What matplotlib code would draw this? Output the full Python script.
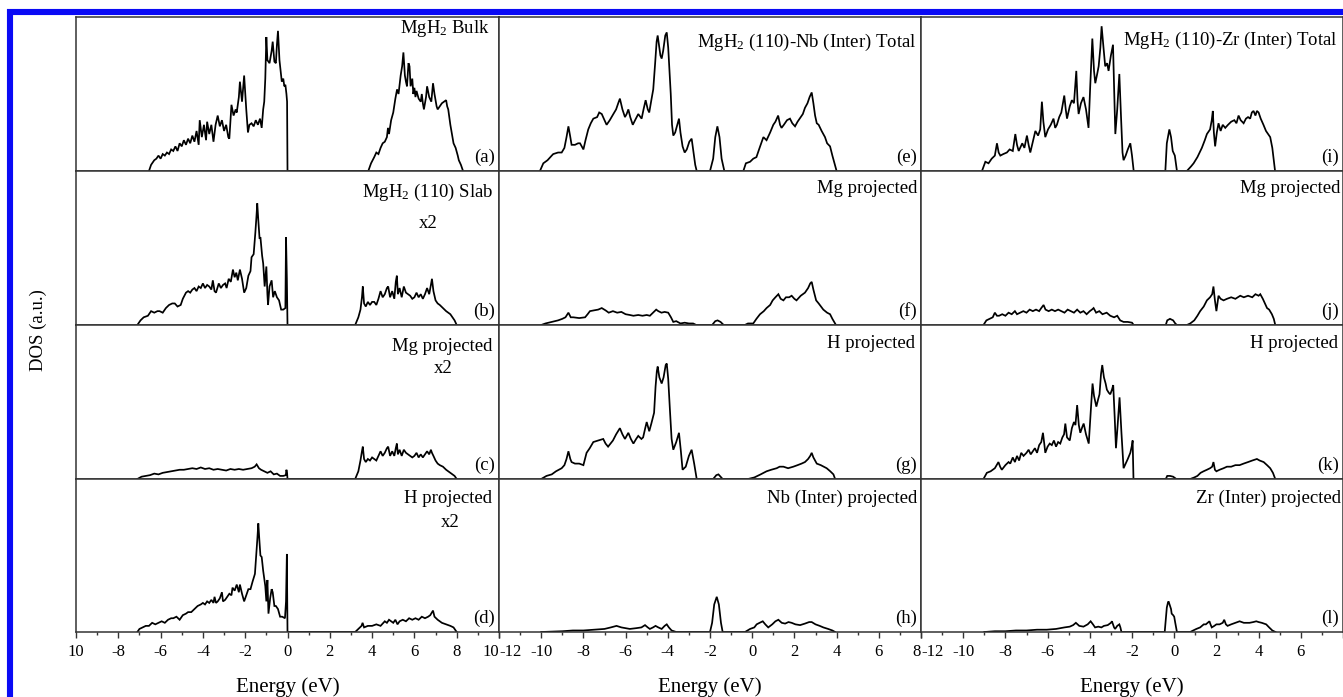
import matplotlib
matplotlib.use("Agg")
import matplotlib.pyplot as plt
from matplotlib.lines import Line2D

plt.rcParams['font.family'] = ['Liberation Serif', 'DejaVu Serif']
plt.rcParams['mathtext.fontset'] = 'custom'
plt.rcParams['mathtext.rm'] = 'Liberation Serif'
plt.rcParams['mathtext.it'] = 'Liberation Serif:italic'
plt.rcParams['axes.unicode_minus'] = False

# ---------------- data (energy in eV, DOS in arbitrary units 0..100) ----------------
a_pts = [(-6.55,0),(-6.45,4),(-6.3,7),(-6.2,8),(-6.1,10),(-6.0,8),(-5.9,11),(-5.8,10),(-5.7,12),(-5.6,11),
         (-5.5,14),(-5.4,13),(-5.3,16),(-5.2,13),(-5.1,18),(-5.0,16),(-4.9,20),(-4.8,17),(-4.7,21),(-4.6,18),
         (-4.5,23),(-4.4,19),(-4.3,26),(-4.2,17),(-4.15,33),(-4.05,22),(-3.95,30),(-3.85,20),(-3.8,32),(-3.7,24),
         (-3.6,30),(-3.5,19),(-3.4,30),(-3.3,36),(-3.2,29),(-3.1,33),(-3.0,26),(-2.9,30),(-2.8,22),(-2.75,21),
         (-2.65,43),(-2.55,36),(-2.45,40),(-2.4,38),(-2.3,48),(-2.25,58),(-2.15,45),(-2.05,62),(-1.95,40),(-1.87,25),
         (-1.8,30),(-1.7,31),(-1.6,29),(-1.5,33),(-1.4,30),(-1.3,34),(-1.22,28),(-1.15,40),(-1.1,45),(-1.05,60),
         (-1.0,87),(-0.95,72),(-0.85,70),(-0.75,78),(-0.7,84),(-0.62,71),(-0.55,70),(-0.5,82),(-0.45,91),(-0.38,72),
         (-0.3,62),(-0.27,58),(-0.2,60),(-0.15,55),(-0.1,56),(-0.05,50),(-0.02,45),(0.0,0),
         (3.82,0),(3.95,5),(4.1,9),(4.2,12),(4.3,11),(4.4,15),(4.5,18),(4.6,19),(4.7,22),(4.75,28),(4.8,24),
         (4.9,33),(5.0,38),(5.1,47),(5.18,53),(5.25,50),(5.35,62),(5.42,68),(5.48,77),(5.55,62),(5.6,58),(5.65,55),
         (5.72,70),(5.77,68),(5.82,55),(5.9,60),(5.95,50),(6.0,54),(6.05,48),(6.1,52),(6.2,47),(6.3,45),(6.35,50),
         (6.4,44),(6.45,40),(6.55,48),(6.6,55),(6.7,48),(6.8,45),(6.88,57),(6.95,50),(7.05,42),(7.1,40),(7.2,42),
         (7.3,44),(7.4,45),(7.5,46),(7.55,42),(7.6,40),(7.7,30),(7.8,22),(7.85,18),(7.95,15),(8.05,10),(8.1,7),
         (8.2,4),(8.3,0)]

b_pts = [(-7.1,0),(-6.95,3),(-6.8,5),(-6.6,6),(-6.45,9),(-6.3,8),(-6.15,9),(-6.05,9),(-5.9,8),(-5.75,11),
         (-5.6,13),(-5.45,14),(-5.33,14),(-5.2,12),(-5.05,13),(-4.95,17),(-4.8,21),(-4.7,22),(-4.6,21),(-4.5,23),
         (-4.4,24),(-4.3,22),(-4.2,25),(-4.1,24),(-4.0,27),(-3.9,24),(-3.8,26),(-3.7,25),(-3.6,23),(-3.53,29),
         (-3.45,22),(-3.38,21),(-3.25,27),(-3.15,24),(-3.05,26),(-2.95,27),(-2.88,24),(-2.78,30),(-2.68,28),(-2.58,36),
         (-2.5,31),(-2.42,34),(-2.35,29),(-2.25,36),(-2.15,30),(-2.05,21),(-1.95,24),(-1.85,32),(-1.75,35),(-1.7,44),
         (-1.6,46),(-1.52,60),(-1.47,70),(-1.43,79),(-1.38,68),(-1.32,56),(-1.28,57),(-1.2,45),(-1.15,40),(-1.08,25),
         (-1.0,38),(-0.95,20),(-0.92,13),(-0.85,25),(-0.75,29),(-0.68,18),(-0.6,22),(-0.5,18),(-0.4,16),(-0.3,10),
         (-0.2,10),(-0.1,11),(-0.07,57),(-0.03,30),(0.0,0),
         (3.2,0),(3.35,5),(3.45,10),(3.52,18),(3.56,25),(3.62,14),(3.7,12),(3.8,15),(3.9,13),(4.0,15),(4.1,15),
         (4.2,13),(4.3,17),(4.4,22),(4.5,18),(4.6,20),(4.7,24),(4.76,25),(4.85,18),(4.95,22),(5.05,17),(5.12,28),
         (5.17,32),(5.22,20),(5.3,24),(5.4,18),(5.5,25),(5.6,21),(5.7,20),(5.8,19),(5.9,17),(6.0,18),(6.1,21),
         (6.2,18),(6.3,20),(6.4,17),(6.5,20),(6.6,24),(6.7,20),(6.78,26),(6.83,30),(6.9,22),(7.0,16),(7.1,14),
         (7.2,13),(7.35,11),(7.5,9),(7.6,8),(7.7,7),(7.8,5),(7.9,3),(8.0,0)]

c_pts = [(-7.1,0),(-6.9,1.5),(-6.7,2),(-6.5,2.5),(-6.3,3.5),(-6.1,3),(-5.9,4),(-5.7,4.5),(-5.5,5),(-5.3,5.5),
         (-5.1,6),(-4.9,6),(-4.7,6.5),(-4.5,7),(-4.3,6.5),(-4.1,7.5),(-3.9,6.5),(-3.7,7),(-3.5,6),(-3.3,6.5),
         (-3.1,6),(-2.9,5.5),(-2.7,6.5),(-2.5,6),(-2.3,6.5),(-2.1,6),(-1.9,6.5),(-1.7,7),(-1.55,8),(-1.46,9.5),
         (-1.35,7),(-1.25,6),(-1.1,5),(-0.95,4),(-0.8,5),(-0.65,3),(-0.5,3.5),(-0.35,2),(-0.2,2),(-0.08,2.5),
         (-0.05,6),(-0.02,4),(0.0,0),
         (3.2,0),(3.35,5),(3.45,12),(3.52,18),(3.56,21),(3.62,13),(3.7,11),(3.8,13),(3.9,12),(4.0,14),(4.1,13),
         (4.2,12),(4.3,15),(4.4,18),(4.5,15),(4.6,17),(4.7,20),(4.76,21),(4.85,15),(4.95,18),(5.05,15),(5.12,20),
         (5.17,23),(5.22,16),(5.3,19),(5.4,15),(5.5,19),(5.6,17),(5.7,16),(5.8,15),(5.9,14),(6.0,15),(6.1,17),
         (6.2,14),(6.3,16),(6.4,14),(6.5,16),(6.6,18),(6.7,16),(6.78,19),(6.83,17),(6.9,15),(7.0,12),(7.1,10),
         (7.2,9),(7.35,8),(7.5,6),(7.6,5),(7.7,4),(7.8,3),(7.9,2),(8.0,0)]

d_pts = [(-7.1,0),(-7.0,2),(-6.85,3),(-6.7,4),(-6.55,4),(-6.4,6),(-6.25,5),(-6.1,6),(-5.95,7),(-5.8,6),
         (-5.65,8),(-5.5,9),(-5.4,9),(-5.25,10),(-5.1,8),(-4.95,11),(-4.8,12),(-4.7,13),(-4.55,13),(-4.4,15),
         (-4.25,17),(-4.1,18),(-4.0,19),(-3.9,18),(-3.8,20),(-3.7,19),(-3.6,21),(-3.5,19),(-3.45,23),(-3.38,19),
         (-3.3,20),(-3.2,22),(-3.1,26),(-3.05,20),(-2.95,21),(-2.85,23),(-2.75,25),(-2.65,24),(-2.6,29),(-2.5,27),
         (-2.4,31),(-2.3,26),(-2.25,31),(-2.15,25),(-2.05,20),(-1.95,24),(-1.85,28),(-1.75,28),(-1.65,33),(-1.54,38),
         (-1.48,50),(-1.42,62),(-1.38,71),(-1.33,60),(-1.28,50),(-1.22,49),(-1.15,40),(-1.05,30),(-1.0,20),(-0.95,34),
         (-0.9,12),(-0.82,22),(-0.75,28),(-0.7,26),(-0.62,17),(-0.55,17),(-0.45,15),(-0.35,10),(-0.25,10),(-0.12,9),
         (-0.07,20),(-0.03,51),(0.0,0),
         (3.2,0),(3.35,2),(3.5,4),(3.55,6),(3.62,3),(3.8,4),(4.0,4),(4.2,5),(4.4,4),(4.6,7),(4.7,6),(4.8,8),
         (4.9,7),(5.0,6),(5.1,8),(5.2,5),(5.3,7),(5.45,8),(5.6,7),(5.75,9),(5.9,8),(6.05,9),(6.2,8),(6.35,10),
         (6.5,9),(6.65,10),(6.75,11),(6.88,14),(6.95,10),(7.1,8),(7.3,6),(7.5,5),(7.7,4),(7.85,3),(8.0,0)]

e_pts = [(-10.06,0),(-9.9,5),(-9.7,7),(-9.5,10),(-9.43,11),(-9.2,12),(-9.03,12),(-8.9,15),(-8.8,22),(-8.71,29),
         (-8.62,22),(-8.56,17),(-8.4,17),(-8.25,18),(-8.16,18),(-8.0,14),(-7.9,20),(-7.77,27),(-7.65,31),(-7.53,34),
         (-7.35,35),(-7.25,38),(-7.13,37),(-7.0,33),(-6.9,30),(-6.75,33),(-6.58,37),(-6.45,40),(-6.35,44),(-6.27,47),
         (-6.15,40),(-6.03,35),(-5.95,37),(-5.87,40),(-5.78,35),(-5.66,30),(-5.55,33),(-5.4,37),(-5.24,34),(-5.15,40),
         (-5.05,46),(-4.95,40),(-4.88,38),(-4.78,46),(-4.69,53),(-4.6,70),(-4.53,84),(-4.48,88),(-4.42,82),(-4.35,75),
         (-4.29,73),(-4.22,78),(-4.12,88),(-4.05,90),(-3.98,80),(-3.92,65),(-3.86,50),(-3.8,30),(-3.74,23),(-3.65,25),
         (-3.55,30),(-3.47,34),(-3.4,25),(-3.3,16),(-3.2,12),(-3.1,14),(-2.98,19),(-2.87,21),(-2.78,12),(-2.7,4),
         (-2.63,0),(-2.0,0),(-1.85,8),(-1.75,22),(-1.65,29),(-1.55,22),(-1.45,8),(-1.32,0),
         (-0.42,0),(-0.3,5),(-0.1,6),(0.05,8),(0.2,9),(0.35,15),(0.53,22),(0.68,20),(0.85,25),(1.0,30),(1.1,32),
         (1.23,36),(1.32,30),(1.39,28),(1.5,30),(1.65,33),(1.79,34),(1.9,31),(2.03,29),(2.15,32),(2.3,35),(2.4,37),
         (2.5,41),(2.62,44),(2.72,48),(2.82,51),(2.9,44),(2.98,36),(3.06,31),(3.15,30),(3.29,26),(3.45,22),(3.55,18),
         (3.69,16),(3.8,10),(3.9,5),(4.0,0)]

f_pts = [(-10.0,0),(-9.8,1),(-9.5,2),(-9.2,3),(-9.0,4),(-8.85,5),(-8.71,8),(-8.6,5),(-8.48,5),(-8.2,4.5),
         (-7.92,5),(-7.8,7),(-7.69,9),(-7.5,9.5),(-7.3,10),(-7.13,11),(-6.95,9.5),(-6.8,8),(-6.6,9),(-6.4,8),
         (-6.2,8.5),(-6.0,7),(-5.8,6.5),(-5.63,6),(-5.4,6.5),(-5.2,6),(-5.0,6.5),(-4.85,6),(-4.7,8),(-4.55,10),
         (-4.45,9),(-4.3,8),(-4.15,8.5),(-3.98,8),(-3.85,5),(-3.74,2),(-3.6,2.5),(-3.4,1),(-3.2,1.5),(-3.0,1),
         (-2.8,1),(-2.65,0),(-1.9,0),(-1.75,2.5),(-1.64,3),(-1.5,2),(-1.35,0),
         (-0.35,0),(-0.2,1),(0.05,1),(0.2,4),(0.37,7),(0.55,9),(0.68,11),(0.85,13),(0.97,16),(1.1,18),(1.24,20),
         (1.35,17),(1.48,16),(1.6,18),(1.75,18),(1.87,19),(2.0,17),(2.1,16),(2.3,19),(2.5,21),(2.65,24),(2.75,27),
         (2.82,28),(2.9,23),(3.03,16),(3.15,14),(3.37,10),(3.55,8),(3.69,7),(3.8,4),(3.97,0)]

g_pts = [(-10.0,0),(-9.75,2),(-9.5,3),(-9.3,5),(-9.03,7),(-8.9,9),(-8.8,13),(-8.71,18),(-8.62,13),(-8.56,11),
         (-8.4,10),(-8.2,10),(-8.0,9),(-7.85,17),(-7.7,20),(-7.53,24),(-7.3,25),(-7.06,26),(-6.95,23),(-6.83,21),
         (-6.6,25),(-6.45,29),(-6.27,33),(-6.15,29),(-6.03,26),(-5.87,30),(-5.75,26),(-5.63,23),(-5.5,26),(-5.4,28),
         (-5.25,26),(-5.17,27),(-5.07,33),(-5.0,37),(-4.88,31),(-4.78,36),(-4.65,43),(-4.58,60),(-4.52,70),(-4.48,73),
         (-4.4,66),(-4.29,62),(-4.2,66),(-4.1,74),(-4.05,75),(-3.98,65),(-3.9,45),(-3.82,26),(-3.74,19),(-3.6,24),
         (-3.47,30),(-3.38,18),(-3.3,6),(-3.15,8),(-3.0,15),(-2.87,19),(-2.75,10),(-2.63,0),
         (-1.85,0),(-1.7,2.5),(-1.6,3),(-1.5,1.5),(-1.4,0),
         (-0.2,0),(0.1,1),(0.4,3),(0.68,5),(0.9,6),(1.16,7),(1.3,8),(1.48,8),(1.7,7),(1.95,8),(2.15,9),(2.34,10),
         (2.5,11),(2.65,13),(2.75,15),(2.82,17),(2.9,14),(3.06,10),(3.25,9),(3.53,7),(3.7,5),(3.85,3),(3.93,0)]

h_pts = [(-10.0,0),(-9.0,0.5),(-8.5,1),(-8.0,1),(-7.5,1.5),(-7.0,2),(-6.7,3),(-6.43,4),(-6.2,3),(-5.8,2),
         (-5.5,2.5),(-5.25,3),(-5.08,4.5),(-4.95,3),(-4.85,2),(-4.7,3),(-4.58,4),(-4.45,3),(-4.29,2),(-4.15,4),
         (-4.05,5),(-3.95,3),(-3.82,1),(-3.6,0),
         (-2.0,0),(-1.9,6),(-1.8,18),(-1.68,23),(-1.58,18),(-1.48,6),(-1.4,0),
         (-0.34,0),(-0.1,2),(0.1,3),(0.21,5),(0.35,6),(0.5,7),(0.62,5),(0.76,3),(0.95,5),(1.1,7),(1.24,8),
         (1.4,6),(1.56,5.5),(1.72,6.5),(1.87,6),(2.05,5),(2.27,4.5),(2.5,5.5),(2.7,6.5),(2.82,6.5),(3.0,5),
         (3.2,4),(3.37,3),(3.6,2),(3.8,1),(3.93,0)]

i_pts = [(-9.11,0),(-8.95,6),(-8.8,5),(-8.65,8),(-8.5,10),(-8.4,18),(-8.32,12),(-8.24,10),(-8.1,11),(-7.93,12),
         (-7.8,14),(-7.65,13),(-7.53,24),(-7.45,17),(-7.37,13),(-7.2,18),(-7.1,15),(-6.98,23),(-6.9,17),(-6.82,12),
         (-6.7,19),(-6.58,26),(-6.45,23),(-6.35,27),(-6.27,45),(-6.2,32),(-6.11,22),(-5.98,27),(-5.85,30),(-5.72,34),
         (-5.64,28),(-5.56,30),(-5.45,35),(-5.35,38),(-5.21,49),(-5.14,40),(-5.08,34),(-4.95,42),(-4.85,46),(-4.75,44),
         (-4.64,65),(-4.58,45),(-4.53,37),(-4.42,44),(-4.3,48),(-4.18,40),(-4.06,28),(-3.98,55),(-3.88,86),(-3.8,65),
         (-3.74,57),(-3.65,63),(-3.58,68),(-3.5,80),(-3.44,94),(-3.35,80),(-3.27,68),(-3.18,70),(-3.11,65),(-3.0,75),
         (-2.9,82),(-2.85,55),(-2.79,24),(-2.7,40),(-2.6,63),(-2.52,35),(-2.45,12),(-2.4,7),(-2.3,10),(-2.2,14),
         (-2.08,18),(-2.0,10),(-1.92,0),
         (-0.42,0),(-0.35,18),(-0.23,27),(-0.15,22),(-0.07,13),(0.03,10),(0.13,0),
         (0.6,0),(0.8,3),(0.92,5),(1.1,9),(1.31,15),(1.45,20),(1.55,24),(1.7,27),(1.78,33),(1.83,39),(1.88,25),
         (1.94,16),(2.02,25),(2.1,31),(2.2,26),(2.3,30),(2.42,28),(2.55,30),(2.7,32),(2.85,33),(2.95,31),(3.05,36),
         (3.15,33),(3.29,31),(3.4,34),(3.5,35),(3.6,34),(3.68,38),(3.76,39),(3.85,36),(3.92,39),(4.0,38),(4.1,34),
         (4.23,30),(4.35,26),(4.45,24),(4.55,22),(4.65,15),(4.78,0)]

j_pts = [(-9.04,0),(-8.9,3),(-8.75,4),(-8.6,5),(-8.5,8),(-8.4,6),(-8.3,6),(-8.15,7),(-8.0,6),(-7.85,8),
         (-7.7,7),(-7.55,9),(-7.45,7),(-7.3,8),(-7.15,9),(-7.0,8),(-6.85,10),(-6.7,9),(-6.55,10),(-6.4,9),
         (-6.3,11),(-6.19,13),(-6.1,10),(-5.95,9),(-5.8,10),(-5.65,9),(-5.5,10),(-5.35,9),(-5.2,8),(-5.05,10),
         (-4.9,9),(-4.75,8),(-4.6,10),(-4.45,8),(-4.3,9),(-4.15,7),(-4.0,9),(-3.9,10),(-3.82,11),(-3.7,8),
         (-3.55,9),(-3.4,7),(-3.2,8),(-3.03,6),(-2.85,5),(-2.7,6),(-2.56,3),(-2.4,2),(-2.2,2),(-2.0,1.5),(-1.92,0),
         (-0.4,0),(-0.33,3),(-0.2,4),(-0.05,3),(0.05,1),(0.13,0),
         (0.6,0),(0.76,1),(0.95,3),(1.1,6),(1.23,9),(1.4,12),(1.55,16),(1.7,18),(1.8,20),(1.86,25),(1.93,16),
         (2.0,9),(2.05,14),(2.1,19),(2.2,17),(2.34,16),(2.5,17),(2.7,18),(2.9,17),(3.13,19),(3.3,18),(3.5,19),
         (3.7,18),(3.85,20),(4.0,19),(4.08,20),(4.2,17),(4.3,14),(4.4,11),(4.5,10),(4.63,7),(4.72,4),(4.79,0)]

k_pts = [(-9.04,0),(-8.88,4),(-8.7,5),(-8.5,7),(-8.33,11),(-8.25,8),(-8.17,6),(-8.0,9),(-7.85,11),(-7.77,10),
         (-7.65,14),(-7.55,11),(-7.45,15),(-7.35,12),(-7.25,17),(-7.14,15),(-7.0,17),(-6.9,19),(-6.8,16),(-6.7,18),
         (-6.6,20),(-6.5,17),(-6.4,22),(-6.3,24),(-6.22,30),(-6.15,22),(-6.11,17),(-6.0,21),(-5.9,23),(-5.8,22),
         (-5.7,25),(-5.6,21),(-5.5,24),(-5.4,23),(-5.3,27),(-5.22,29),(-5.16,36),(-5.08,27),(-4.95,25),(-4.85,33),
         (-4.75,37),(-4.68,35),(-4.6,48),(-4.52,35),(-4.45,30),(-4.35,34),(-4.29,36),(-4.18,29),(-4.05,23),(-3.95,45),
         (-3.87,62),(-3.8,54),(-3.69,47),(-3.6,52),(-3.54,55),(-3.47,68),(-3.41,74),(-3.33,66),(-3.25,62),(-3.19,58),
         (-3.1,56),(-3.03,55),(-2.95,58),(-2.89,61),(-2.82,40),(-2.76,20),(-2.68,35),(-2.59,53),(-2.5,30),(-2.4,7),
         (-2.3,10),(-2.2,13),(-2.08,17),(-2.0,22),(-1.97,25),(-1.93,0),
         (-0.4,0),(-0.33,2),(-0.2,2),(-0.05,1.5),(0.1,0),
         (0.76,0),(0.95,1),(1.1,2),(1.25,4),(1.39,5),(1.55,6),(1.7,7),(1.8,8),(1.86,11),(1.93,6),(2.0,5),
         (2.15,6),(2.34,7),(2.5,8),(2.7,8),(2.9,9),(3.1,9),(3.29,10),(3.5,11),(3.7,12),(3.92,13),(4.05,12),
         (4.24,11),(4.4,9),(4.55,7),(4.68,4),(4.79,0)]

l_pts = [(-9.0,0),(-8.5,0.5),(-8.0,0.5),(-7.5,1),(-7.0,1),(-6.5,1.5),(-6.04,1.5),(-5.6,2),(-5.2,3),(-4.95,3.5),
         (-4.79,4.5),(-4.66,6),(-4.5,4),(-4.3,3.5),(-4.1,5),(-3.96,7),(-3.85,5),(-3.75,3),(-3.6,3.5),(-3.45,3),
         (-3.33,4),(-3.15,4.5),(-3.0,6),(-2.95,7),(-2.85,3),(-2.8,2),(-2.7,4),(-2.6,5),(-2.55,3),(-2.5,0),
         (-0.45,0),(-0.4,8),(-0.35,16),(-0.3,19),(-0.27,20),(-0.22,18),(-0.15,15),(-0.12,12),(-0.05,11),(0.0,10),
         (0.05,6),(0.13,0),
         (0.76,0),(0.9,1),(1.05,2),(1.23,3),(1.4,5),(1.5,5),(1.67,7),(1.72,5),(1.78,3),(1.9,4),(2.0,5),(2.15,5),
         (2.3,6),(2.37,8),(2.45,5),(2.53,4),(2.7,5),(2.9,6),(3.1,7),(3.3,6),(3.57,6),(3.75,6.5),(3.89,7),(4.0,6.5),
         (4.15,6),(4.36,5),(4.5,3),(4.65,1),(4.8,0)]

panel_titles = [
    ["MgH$_\\mathregular{2}$ Bulk", "MgH$_\\mathregular{2}$ (110) Slab", "Mg projected", "H projected"],
    ["MgH$_\\mathregular{2}$ (110)-Nb (Inter) Total", "Mg projected", "H projected", "Nb (Inter) projected"],
    ["MgH$_\\mathregular{2}$ (110)-Zr (Inter) Total", "Mg projected", "H projected", "Zr (Inter) projected"],
]
panel_scale_notes = [["", "x2", "x2", "x2"], ["", "", "", ""], ["", "", "", ""]]
panel_letters = [["(a)", "(b)", "(c)", "(d)"], ["(e)", "(f)", "(g)", "(h)"], ["(i)", "(j)", "(k)", "(l)"]]
panel_data = [[a_pts, b_pts, c_pts, d_pts], [e_pts, f_pts, g_pts, h_pts], [i_pts, j_pts, k_pts, l_pts]]

col_xlims = [(-10, 10), (-12, 8), (-12, 8)]
col_ticks = [[-10, -8, -6, -4, -2, 0, 2, 4, 6, 8, 10],
             [-12, -10, -8, -6, -4, -2, 0, 2, 4, 6, 8],
             [-12, -10, -8, -6, -4, -2, 0, 2, 4, 6, 8]]
col_ticklabels = [["10", "-8", "-6", "-4", "-2", "0", "2", "4", "6", "8", "10"],
                  ["-12", "-10", "-8", "-6", "-4", "-2", "0", "2", "4", "6", "8"],
                  ["-12", "-10", "-8", "-6", "-4", "-2", "0", "2", "4", "6", ""]]

# ---------------- layout ----------------
W, H = 1343, 697
fig = plt.figure(figsize=(W / 100, H / 100), dpi=100)
col_x = [76, 499, 921, 1343]
row_y = [17, 171, 325, 479, 632]

# title baseline offsets (px below top) and right offsets (px from right)
title_base = [[16, 26, 26, 24], [30, 22, 23, 24], [28, 22, 23, 24]]
title_right = [[9, 6, 7, 7], [4, 4, 6, 4], [6, 3, 5, 2]]
note_pos = [[None, (428, 57), (443, 48), (450, 48)], [None] * 4, [None] * 4]

frame_color = '#333333'
for c in range(3):
    for r in range(4):
        x0, x1 = col_x[c], col_x[c + 1]
        y0, y1 = row_y[r], row_y[r + 1]
        ax = fig.add_axes([x0 / W, 1 - y1 / H, (x1 - x0) / W, (y1 - y0) / H])
        pts = panel_data[c][r]
        ax.plot([p[0] for p in pts], [p[1] for p in pts], color='black', lw=1.25, solid_joinstyle='miter')
        ax.set_xlim(*col_xlims[c])
        ax.set_ylim(0, 100)
        for s in ax.spines.values():
            s.set_color(frame_color)
            s.set_linewidth(1.1)
        ax.set_yticks([])
        if r == 3:
            ax.set_xticks(col_ticks[c])
            ax.set_xticklabels(col_ticklabels[c], fontsize=12)
            ax.set_xticks(list(range(col_xlims[c][0], col_xlims[c][1] + 1)), minor=True)
            ax.tick_params(axis='x', which='major', direction='out', length=4.5, width=1.0,
                           color=frame_color, pad=4)
            ax.tick_params(axis='x', which='minor', direction='out', length=2.5, width=1.0,
                           color=frame_color)
            labs = ax.get_xticklabels()
            if c == 0:
                labs[-1].set_horizontalalignment('right')
            if c == 1:
                labs[0].set_horizontalalignment('left')
                labs[-1].set_horizontalalignment('right')
            if c == 2:
                labs[0].set_horizontalalignment('left')
        else:
            ax.set_xticks([])
        # title
        fig.text((x1 - title_right[c][r]) / W, 1 - (y0 + title_base[c][r]) / H, panel_titles[c][r],
                 ha='right', va='baseline', fontsize=13.5)
        if note_pos[c][r] is not None:
            nx, ny = note_pos[c][r]
            fig.text(nx / W, 1 - (y0 + ny) / H, panel_scale_notes[c][r], ha='center', va='baseline',
                     fontsize=13.5)
        fig.text((x1 - 4) / W, 1 - (y1 - 9) / H, panel_letters[c][r], ha='right', va='baseline',
                 fontsize=13.5)

fig.text(38 / W, 1 - 330 / H, 'DOS (a.u.)', rotation=90, ha='center', va='center', fontsize=13.5)
for c in range(3):
    fig.text((col_x[c] + col_x[c + 1]) / 2 / W, 1 - 687 / H, 'Energy (eV)', ha='center', va='center',
             fontsize=15)

# blue frame (top and left)
blue = '#0a0af5'
fig.add_artist(Line2D([7 / W, 1], [1 - 12 / H, 1 - 12 / H], color=blue, lw=4.4, transform=fig.transFigure,
                      solid_capstyle='butt'))
fig.add_artist(Line2D([10 / W, 10 / W], [0, 1 - 9 / H], color=blue, lw=4.4, transform=fig.transFigure,
                      solid_capstyle='butt'))

fig.savefig('out.png', dpi=100)
